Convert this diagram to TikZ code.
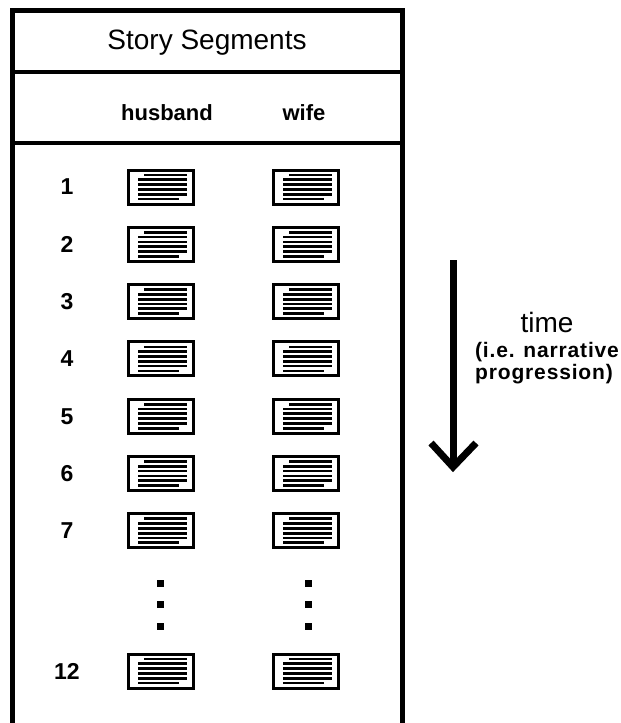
\documentclass[tikz,border=0pt]{standalone}
\usepackage{fontspec}
\setmainfont{Liberation Sans}
\newcommand\segtext[1]{%
  \draw[txtline] ([shift={(-17,-12)}]#1.center) -- ([shift={(26,-12)}]#1.center);
  \foreach \yy in {-7.2,-2.4,2.4,7.2}
    \draw[txtline] ([shift={(-23,\yy)}]#1.center) -- ([shift={(26,\yy)}]#1.center);
  \draw[txtline] ([shift={(-23,12)}]#1.center) -- ([shift={(18,12)}]#1.center);
}
\begin{document}
\begin{tikzpicture}[x=1pt,y=-1pt,
  frame/.style={line width=4.5pt},
  divider/.style={line width=3.5pt},
  seg/.style={draw, line width=3pt, minimum width=65pt, minimum height=34pt, inner sep=0pt},
  txtline/.style={line width=2.7pt},
  dotbox/.style={fill=black, minimum size=7pt, inner sep=0pt},
  titletext/.style={font=\fontsize{28}{32}\selectfont},
  headtext/.style={font=\bfseries\fontsize{22}{26}\selectfont},
  numtext/.style={font=\bfseries\fontsize{23}{26}\selectfont},
  timetext/.style={font=\fontsize{28}{32}\selectfont},
  notetext/.style={font=\bfseries\fontsize{21}{24}\selectfont\addfontfeature{LetterSpace=4}},
  timearrow/.style={line width=7pt, line join=miter}]
\useasboundingbox (0,0) rectangle (621,723);
% frame
\coordinate (bl) at (12.5,730);
\coordinate (tl) at (12.5,10.5);
\coordinate (tr) at (402.5,10.5);
\coordinate (br) at (402.5,730);
\draw[frame] (bl) -- (tl) -- (tr) -- (br);
\coordinate (d1l) at (12.5,72);  \coordinate (d1r) at (402.5,72);
\coordinate (d2l) at (12.5,143); \coordinate (d2r) at (402.5,143);
\draw[divider] (d1l) -- (d1r);
\draw[divider] (d2l) -- (d2r);
% headings
\node[titletext] (title) at (207,43) {Story Segments};
\node[headtext] (husband) at (167,113) {husband};
\node[headtext] (wife) at (304,113) {wife};
% rows
\foreach \n/\y in {1/187,2/244.3,3/301.6,4/358.9,5/416.2,6/473.5,7/530.8,12/671}{
  \node[numtext] (n\n) at (67,\y) {\n};
  \node[seg] (h\n) at (161,\y) {};
  \node[seg] (w\n) at (306,\y) {};
  \segtext{h\n}
  \segtext{w\n}
}
% dots
\foreach \i/\y in {1/583,2/604.5,3/626}{
  \node[dotbox] (hd\i) at (160,\y) {};
  \node[dotbox] (wd\i) at (308,\y) {};
}
% time arrow
\coordinate (atop) at (453,260);
\coordinate (atip) at (453,467);
\coordinate (awl) at (431,443);
\coordinate (awr) at (476,443);
\draw[timearrow] (atop) -- (atip);
\draw[timearrow] (awl) -- (atip) -- (awr);
\node[timetext] (time) at (547,322) {time};
\node[notetext] (note1) at (547,352) {(i.e. narrative};
\node[notetext] (note2) at (544,374) {progression)};
\end{tikzpicture}
\end{document}
